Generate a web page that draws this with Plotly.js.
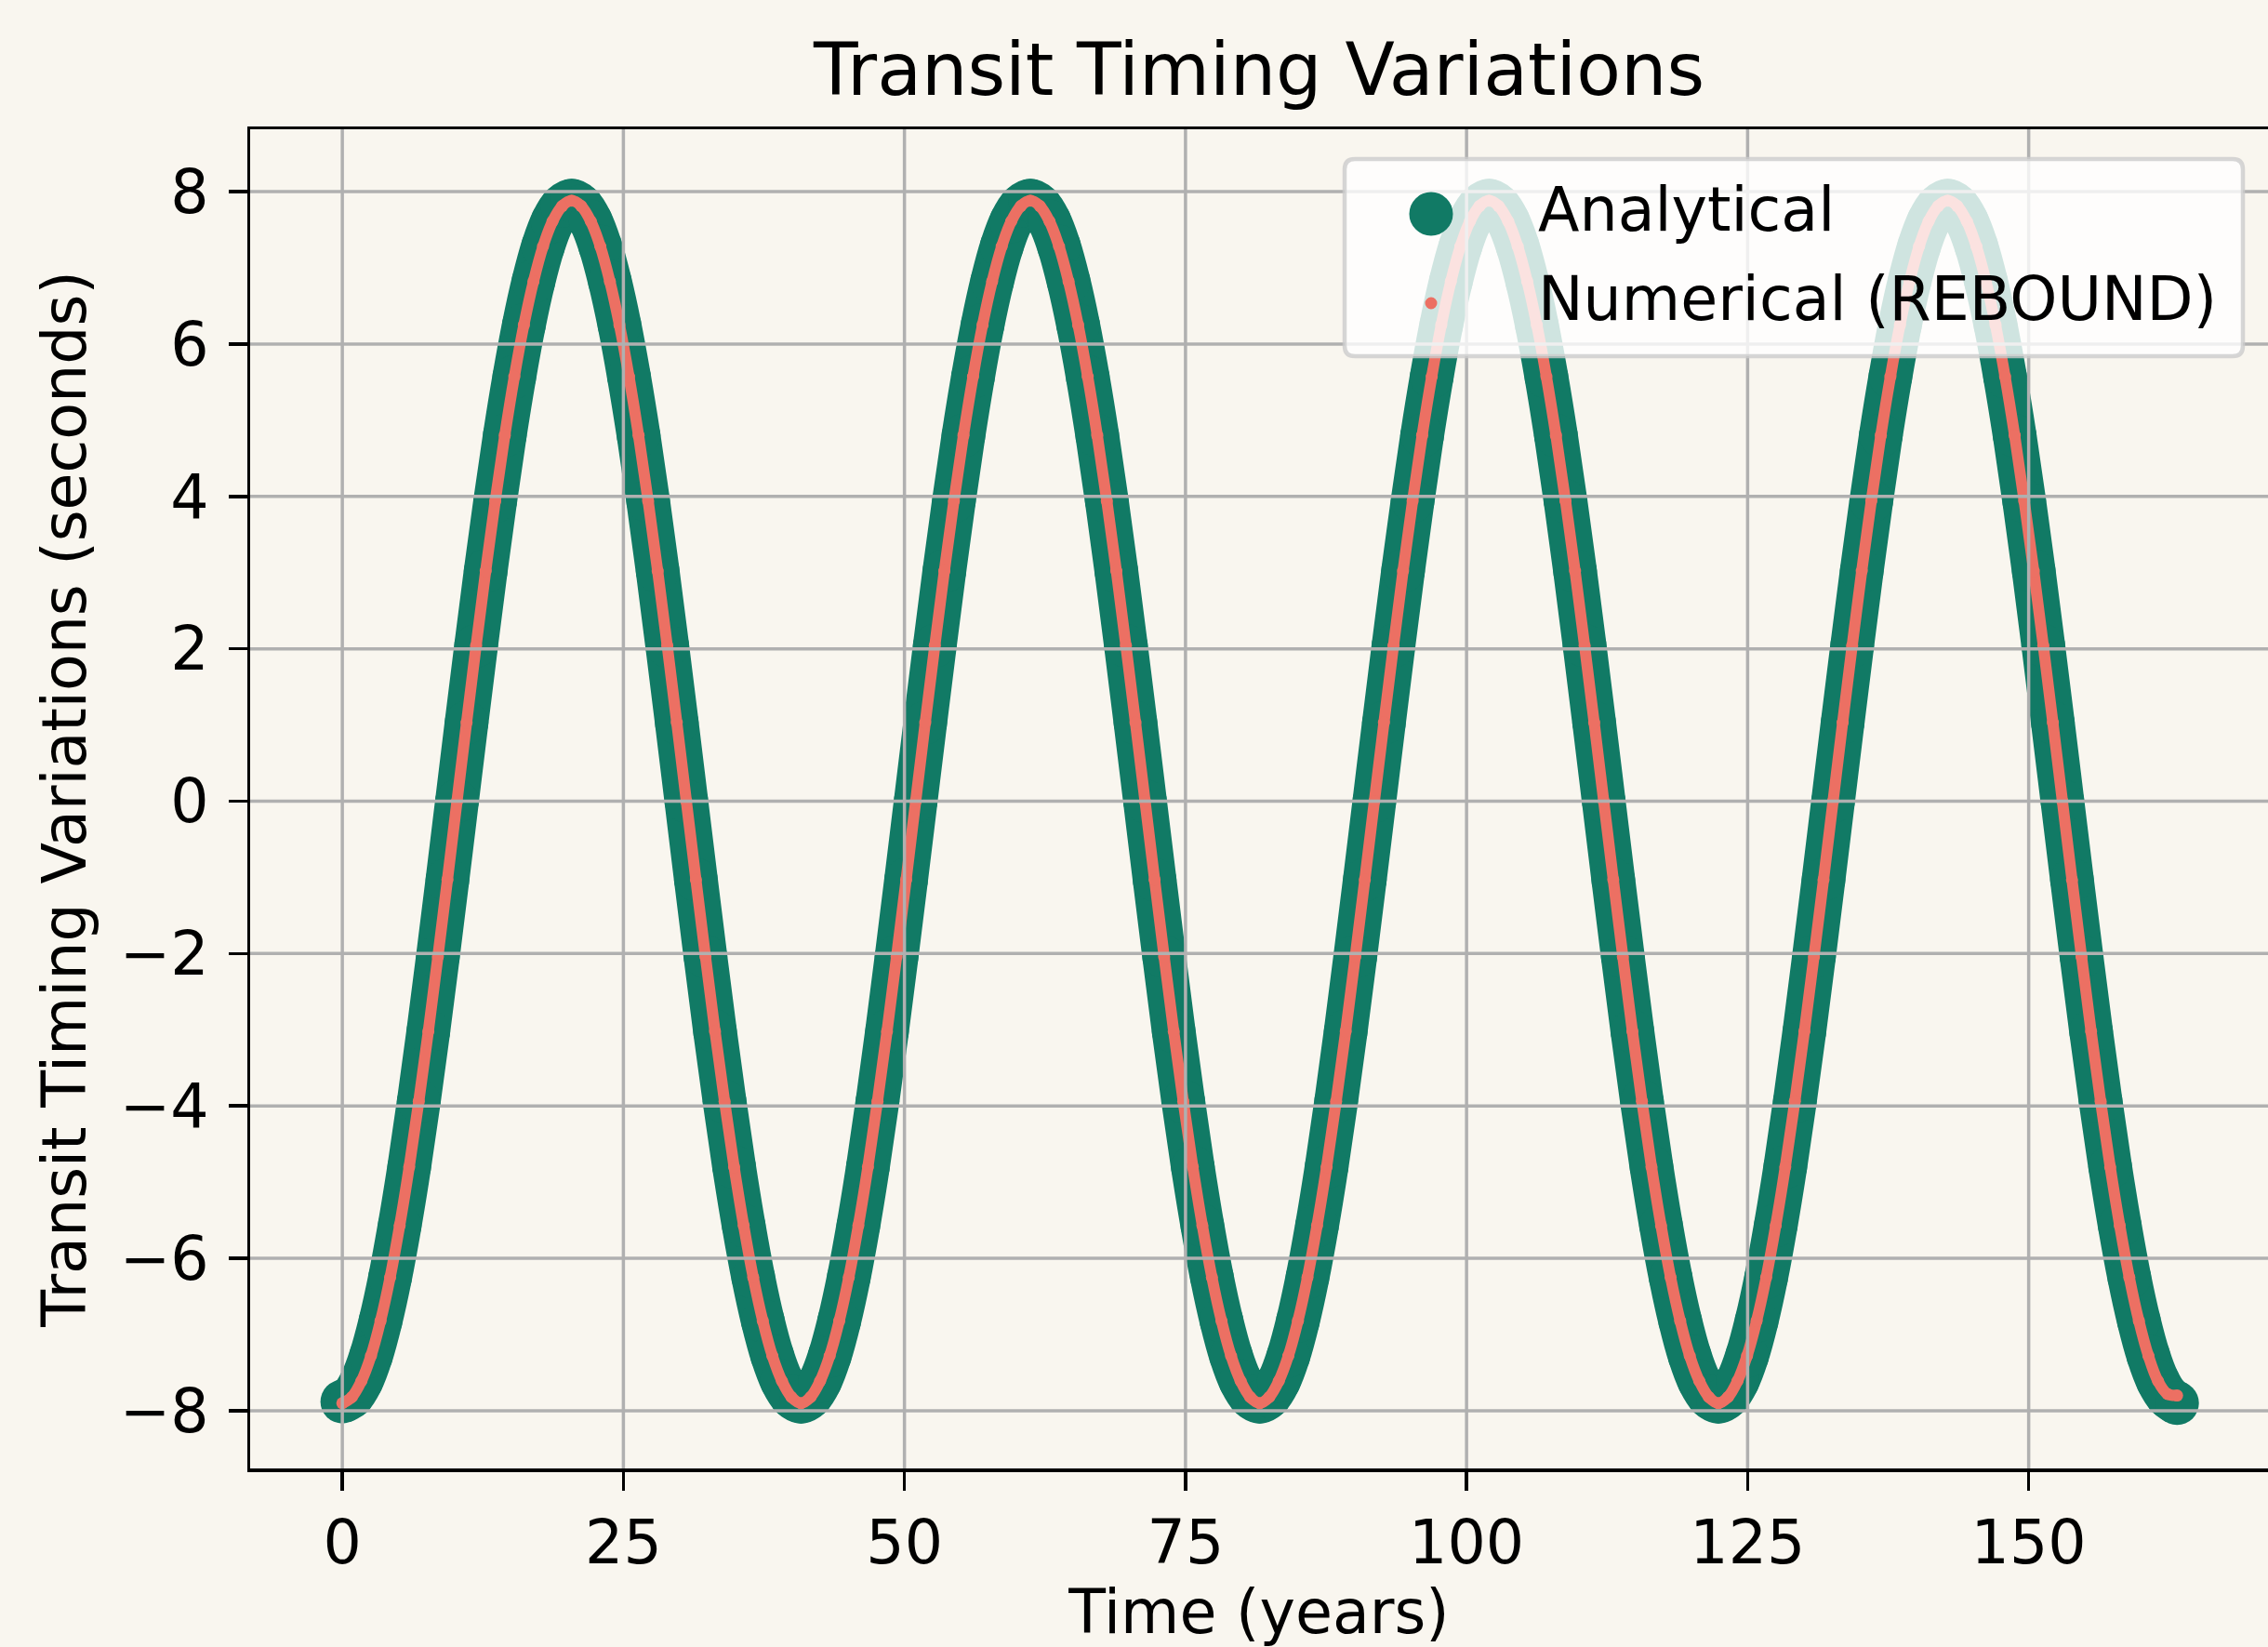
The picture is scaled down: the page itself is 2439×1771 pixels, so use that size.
<!DOCTYPE html>
<html>
<head>
<meta charset="utf-8">
<script src="https://cdn.plot.ly/plotly-3.0.1.min.js"></script>
<style>
html, body { margin: 0; padding: 0; background: #F9F6EF; overflow: hidden; }
#chart { width: 2439px; height: 1771px; }
</style>
</head>
<body>
<div id="chart"></div>
<script>
// ---- data ----
const timeYears = [
  0, 0.85, 1.7, 2.55, 3.4, 4.25, 5.1, 5.95, 6.8, 7.65, 8.5, 9.35, 10.2, 11.05, 11.9, 12.75, 13.6, 14.45, 15.3, 16.15, 17.0, 17.85, 18.7, 19.55,
  20.4, 21.25, 22.1, 22.95, 23.8, 24.65, 25.5, 26.35, 27.2, 28.05, 28.9, 29.75, 30.6, 31.45, 32.3, 33.15, 34.0, 34.85, 35.7, 36.55, 37.4, 38.25, 39.1, 39.95,
  40.8, 41.65, 42.5, 43.35, 44.2, 45.05, 45.9, 46.75, 47.6, 48.45, 49.3, 50.15, 51.0, 51.85, 52.7, 53.55, 54.4, 55.25, 56.1, 56.95, 57.8, 58.65, 59.5, 60.35,
  61.2, 62.05, 62.9, 63.75, 64.6, 65.45, 66.3, 67.15, 68.0, 68.85, 69.7, 70.55, 71.4, 72.25, 73.1, 73.95, 74.8, 75.65, 76.5, 77.35, 78.2, 79.05, 79.9, 80.75,
  81.6, 82.45, 83.3, 84.15, 85.0, 85.85, 86.7, 87.55, 88.4, 89.25, 90.1, 90.95, 91.8, 92.65, 93.5, 94.35, 95.2, 96.05, 96.9, 97.75, 98.6, 99.45, 100.3, 101.15,
  102.0, 102.85, 103.7, 104.55, 105.4, 106.25, 107.1, 107.95, 108.8, 109.65, 110.5, 111.35, 112.2, 113.05, 113.9, 114.75, 115.6, 116.45, 117.3, 118.15, 119.0, 119.85, 120.7, 121.55,
  122.4, 123.25, 124.1, 124.95, 125.8, 126.65, 127.5, 128.35, 129.2, 130.05, 130.9, 131.75, 132.6, 133.45, 134.3, 135.15, 136.0, 136.85, 137.7, 138.55, 139.4, 140.25, 141.1, 141.95,
  142.8, 143.65, 144.5, 145.35, 146.2, 147.05, 147.9, 148.75, 149.6, 150.45, 151.3, 152.15, 153.0, 153.85, 154.7, 155.55, 156.4, 157.25, 158.1, 158.95, 159.8, 160.65, 161.5, 162.35,
  163.2
];
const analyticalTTV = [
  -7.88, -7.81, -7.61, -7.28, -6.82, -6.25, -5.57, -4.80, -3.94, -3.02, -2.04, -1.03, 0.00, 1.03, 2.04, 3.02, 3.94, 4.80, 5.57, 6.25, 6.82, 7.28, 7.61, 7.81,
  7.88, 7.81, 7.61, 7.28, 6.82, 6.25, 5.57, 4.80, 3.94, 3.02, 2.04, 1.03, 0.00, -1.03, -2.04, -3.02, -3.94, -4.80, -5.57, -6.25, -6.82, -7.28, -7.61, -7.81,
  -7.88, -7.81, -7.61, -7.28, -6.82, -6.25, -5.57, -4.80, -3.94, -3.02, -2.04, -1.03, 0.00, 1.03, 2.04, 3.02, 3.94, 4.80, 5.57, 6.25, 6.82, 7.28, 7.61, 7.81,
  7.88, 7.81, 7.61, 7.28, 6.82, 6.25, 5.57, 4.80, 3.94, 3.02, 2.04, 1.03, 0.00, -1.03, -2.04, -3.02, -3.94, -4.80, -5.57, -6.25, -6.82, -7.28, -7.61, -7.81,
  -7.88, -7.81, -7.61, -7.28, -6.82, -6.25, -5.57, -4.80, -3.94, -3.02, -2.04, -1.03, 0.00, 1.03, 2.04, 3.02, 3.94, 4.80, 5.57, 6.25, 6.82, 7.28, 7.61, 7.81,
  7.88, 7.81, 7.61, 7.28, 6.82, 6.25, 5.57, 4.80, 3.94, 3.02, 2.04, 1.03, 0.00, -1.03, -2.04, -3.02, -3.94, -4.80, -5.57, -6.25, -6.82, -7.28, -7.61, -7.81,
  -7.88, -7.81, -7.61, -7.28, -6.82, -6.25, -5.57, -4.80, -3.94, -3.02, -2.04, -1.03, 0.00, 1.03, 2.04, 3.02, 3.94, 4.80, 5.57, 6.25, 6.82, 7.28, 7.61, 7.81,
  7.88, 7.81, 7.61, 7.28, 6.82, 6.25, 5.57, 4.80, 3.94, 3.02, 2.04, 1.03, 0.00, -1.03, -2.04, -3.02, -3.94, -4.80, -5.57, -6.25, -6.82, -7.28, -7.61, -7.81,
  -7.90
];
const numericalTTV = [
  -7.90, -7.82, -7.61, -7.28, -6.82, -6.25, -5.57, -4.80, -3.94, -3.02, -2.04, -1.03, 0.00, 1.03, 2.04, 3.02, 3.94, 4.80, 5.57, 6.25, 6.82, 7.28, 7.61, 7.81,
  7.88, 7.81, 7.61, 7.28, 6.82, 6.25, 5.57, 4.80, 3.94, 3.02, 2.04, 1.03, 0.00, -1.03, -2.04, -3.02, -3.94, -4.80, -5.57, -6.25, -6.82, -7.28, -7.61, -7.82,
  -7.90, -7.82, -7.61, -7.28, -6.82, -6.25, -5.57, -4.80, -3.94, -3.02, -2.04, -1.03, 0.00, 1.03, 2.04, 3.02, 3.94, 4.80, 5.57, 6.25, 6.82, 7.28, 7.61, 7.81,
  7.88, 7.81, 7.61, 7.28, 6.82, 6.25, 5.57, 4.80, 3.94, 3.02, 2.04, 1.03, 0.00, -1.03, -2.04, -3.02, -3.94, -4.80, -5.57, -6.25, -6.82, -7.28, -7.61, -7.82,
  -7.90, -7.82, -7.61, -7.28, -6.82, -6.25, -5.57, -4.80, -3.94, -3.02, -2.04, -1.03, 0.00, 1.03, 2.04, 3.02, 3.94, 4.80, 5.57, 6.25, 6.82, 7.28, 7.61, 7.81,
  7.88, 7.81, 7.61, 7.28, 6.82, 6.25, 5.57, 4.80, 3.94, 3.02, 2.04, 1.03, 0.00, -1.03, -2.04, -3.02, -3.94, -4.80, -5.57, -6.25, -6.82, -7.28, -7.61, -7.82,
  -7.90, -7.82, -7.61, -7.28, -6.82, -6.25, -5.57, -4.80, -3.94, -3.02, -2.04, -1.03, 0.00, 1.03, 2.04, 3.02, 3.94, 4.80, 5.57, 6.25, 6.82, 7.28, 7.61, 7.81,
  7.88, 7.81, 7.61, 7.28, 6.82, 6.25, 5.57, 4.80, 3.94, 3.02, 2.04, 1.03, 0.00, -1.03, -2.04, -3.02, -3.94, -4.80, -5.57, -6.25, -6.82, -7.28, -7.61, -7.78,
  -7.80
];
const seriesNames = ['Analytical', 'Numerical (REBOUND)'];
const xTickVals = [0, 25, 50, 75, 100, 125, 150];
const xTickText = ['0', '25', '50', '75', '100', '125', '150'];
const yTickVals = [-8, -6, -4, -2, 0, 2, 4, 6, 8];
const yTickText = ['\u22128', '\u22126', '\u22124', '\u22122', '0', '2', '4', '6', '8'];
const chartTitle = 'Transit Timing Variations';
const xTitle = 'Time (years)';
const yTitle = 'Transit Timing Variations (seconds)';

// ---- styling ----
const COLORS = ['#117A65', '#EC7063'];
const SIZES = [47, 13];
const BG = '#F9F6EF';
const GRID = '#B0B0B0';
const FONT = 'DejaVu Sans, Verdana, sans-serif';
const FS = 65;
const W = 2439, H = 1771;
const PL = 269, PR = 2439, PT = 139, PB = 1579;
const pw = PR - PL, ph = PB - PT;
const px = x => (x - PL) / pw;
const py = y => (PB - y) / ph;

const traces = [
  {
    type: 'scatter', mode: 'lines+markers', name: seriesNames[0],
    x: timeYears, y: analyticalTTV,
    line: { color: COLORS[0], width: SIZES[0], shape: 'spline', smoothing: 1 },
    marker: { color: COLORS[0], size: SIZES[0] },
    showlegend: false, hoverinfo: 'skip'
  },
  {
    type: 'scatter', mode: 'lines+markers', name: seriesNames[1],
    x: timeYears, y: numericalTTV,
    line: { color: COLORS[1], width: SIZES[1] - 1, shape: 'spline', smoothing: 1 },
    marker: { color: COLORS[1], size: SIZES[1] },
    showlegend: false, hoverinfo: 'skip'
  }
];

const shapes = [];
// grid drawn above the data, as in the reference
xTickVals.forEach(v => shapes.push({
  type: 'line', xref: 'x', yref: 'paper', x0: v, x1: v, y0: 0, y1: 1,
  line: { color: GRID, width: 3.5 }, layer: 'above'
}));
yTickVals.forEach(v => shapes.push({
  type: 'line', xref: 'paper', yref: 'y', x0: 0, x1: 1, y0: v, y1: v,
  line: { color: GRID, width: 3.5 }, layer: 'above'
}));

// legend box (matplotlib-like, rounded, semi-transparent)
const lx0 = px(1446), lx1 = px(2412), ly1 = py(171), ly0 = py(383);
const rx = 11 / pw, ry = 11 / ph;
const legendPath =
  `M ${lx0 + rx},${ly1} L ${lx1 - rx},${ly1} Q ${lx1},${ly1} ${lx1},${ly1 - ry} ` +
  `L ${lx1},${ly0 + ry} Q ${lx1},${ly0} ${lx1 - rx},${ly0} L ${lx0 + rx},${ly0} ` +
  `Q ${lx0},${ly0} ${lx0},${ly0 + ry} L ${lx0},${ly1 - ry} Q ${lx0},${ly1} ${lx0 + rx},${ly1} Z`;
shapes.push({ type: 'path', xref: 'paper', yref: 'paper', path: legendPath,
  fillcolor: 'rgba(255,255,255,0.8)', line: { color: 'rgba(204,204,204,0.8)', width: 4.5 }, layer: 'above' });

const legendRows = [230, 326];
legendRows.forEach((ry_, i) => {
  const r = SIZES[i] / 2;
  shapes.push({
    type: 'circle', xref: 'paper', yref: 'paper',
    xsizemode: 'pixel', ysizemode: 'pixel',
    xanchor: px(1539), yanchor: py(ry_),
    x0: -r, x1: r, y0: -r, y1: r,
    fillcolor: COLORS[i], line: { width: 0 }, layer: 'above'
  });
});

const annotations = legendRows.map((ry_, i) => ({
  xref: 'paper', yref: 'paper', x: px(1652), y: py(ry_ - 5),
  xanchor: 'left', yanchor: 'middle', showarrow: false,
  text: seriesNames[i], font: { family: FONT, size: FS, color: '#000' }
}));

const axisCommon = {
  showline: true, linecolor: '#000', linewidth: 3.5,
  ticks: 'outside', ticklen: 20, tickwidth: 3.5, tickcolor: '#000',
  showgrid: false, zeroline: false, automargin: false,
  tickfont: { family: FONT, size: FS, color: '#000' },
  tickmode: 'array'
};

const layout = {
  width: W, height: H,
  paper_bgcolor: BG, plot_bgcolor: BG,
  margin: { l: PL, r: W - PR, t: PT, b: H - PB, pad: 0, autoexpand: false },
  font: { family: FONT, size: FS, color: '#000' },
  title: {
    text: chartTitle, font: { family: FONT, size: 78, color: '#000' },
    x: 0.5, xref: 'paper', xanchor: 'center',
    y: 1 - 102 / H, yref: 'container', yanchor: 'bottom'
  },
  xaxis: Object.assign({}, axisCommon, {
    range: [-8.2, -8.2 + pw / 12.09],
    tickvals: xTickVals, ticktext: xTickText,
    mirror: true,
    title: { text: xTitle, font: { family: FONT, size: FS, color: '#000' }, standoff: 38 }
  }),
  yaxis: Object.assign({}, axisCommon, {
    range: [-8.757, 8.818],
    tickvals: yTickVals, ticktext: yTickText,
    mirror: false, ticklabelstandoff: 8,
    title: { text: yTitle, font: { family: FONT, size: FS, color: '#000' }, standoff: 16 }
  }),
  showlegend: false,
  shapes: shapes,
  annotations: annotations
};

Plotly.newPlot('chart', traces, layout, { staticPlot: true, displayModeBar: false });
</script>
</body>
</html>
